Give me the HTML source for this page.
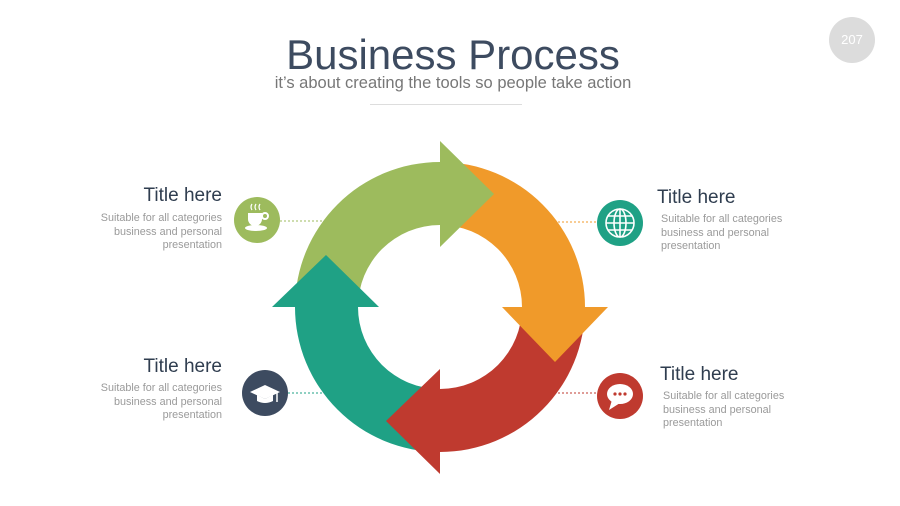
<!DOCTYPE html>
<html><head><meta charset="utf-8"><style>
body{margin:0;width:900px;height:506px;background:#fff;overflow:hidden;font-family:"Liberation Sans",sans-serif;position:relative}
.t{position:absolute;font-size:19px;color:#2f3d4f;white-space:nowrap}
.d{position:absolute;font-size:10.8px;line-height:13.5px;color:#9a9a9a;white-space:nowrap}
.r{text-align:right}
</style></head><body>
<div style="position:absolute;left:0;width:906px;top:31px;text-align:center;font-size:42px;color:#3d4b60">Business Process</div>
<div style="position:absolute;left:0;width:906px;top:74px;text-align:center;font-size:16.5px;color:#777">it’s about creating the tools so people take action</div>
<div style="position:absolute;left:370px;top:104px;width:152px;height:1px;background:#ddd"></div>
<div style="position:absolute;left:829px;top:17px;width:46px;height:46px;border-radius:50%;background:#dcdcdc;color:#fff;font-size:13px;line-height:46px;text-align:center">207</div>

<div class="t r" style="right:678px;top:185px">Title here</div>
<div class="d r" style="right:678px;top:212px">Suitable for all categories<br>business and personal<br>presentation</div>
<div class="t" style="left:657px;top:187px">Title here</div>
<div class="d" style="left:661px;top:213px">Suitable for all categories<br>business and personal<br>presentation</div>
<div class="t r" style="right:678px;top:356px">Title here</div>
<div class="d r" style="right:678px;top:382px">Suitable for all categories<br>business and personal<br>presentation</div>
<div class="t" style="left:660px;top:364px">Title here</div>
<div class="d" style="left:663px;top:390px">Suitable for all categories<br>business and personal<br>presentation</div>

<svg width="900" height="506" style="position:absolute;left:0;top:0">
<g stroke-dasharray="2,2" stroke-width="1">
<line x1="280" y1="221" x2="325" y2="221" stroke="#9dbb5d"/>
<line x1="558" y1="222" x2="598" y2="222" stroke="#f09a2a"/>
<line x1="288" y1="393" x2="325" y2="393" stroke="#1fa185"/>
<line x1="558" y1="393" x2="598" y2="393" stroke="#bf3a2f"/>
</g>
<path d="M295 307 A145 145 0 0 1 440 162 L440 225 A82 82 0 0 0 358 307Z" fill="#9dbb5d"/>
<path d="M440 162 A145 145 0 0 1 585 307 L522 307 A82 82 0 0 0 440 225Z" fill="#f09a2a"/>
<path d="M585 307 A145 145 0 0 1 440 452 L440 389 A82 82 0 0 0 522 307Z" fill="#bf3a2f"/>
<path d="M440 452 A145 145 0 0 1 295 307 L358 307 A82 82 0 0 0 440 389Z" fill="#1fa185"/>
<polygon points="440,141 440,247 494,194" fill="#9dbb5d"/>
<polygon points="502,307 608,307 555,362" fill="#f09a2a"/>
<polygon points="440,369 440,474 386,421" fill="#bf3a2f"/>
<polygon points="272,307 379,307 326,255" fill="#1fa185"/>
<circle cx="257" cy="220" r="23" fill="#9dbb5d"/>
<path d="M248 213 h14 v6 a7 7 0 0 1 -14 0z" fill="#fff"/>
<circle cx="265" cy="216" r="3" fill="none" stroke="#fff" stroke-width="2"/>
<ellipse cx="256" cy="228" rx="11" ry="3" fill="#fff"/>
<path d="M252 210 q-2 -3 0 -6 M256 210 q-2 -3 0 -6 M260 210 q-2 -3 0 -6" stroke="#fff" fill="none" stroke-width="1.2"/>
<circle cx="620" cy="223" r="23" fill="#1fa185"/>
<g fill="none" stroke="#fff" stroke-width="1.6"><circle cx="620" cy="223" r="14"/><ellipse cx="620" cy="223" rx="6" ry="14"/><line x1="606" y1="223" x2="634" y2="223"/><line x1="620" y1="209" x2="620" y2="237"/><line x1="608" y1="216" x2="632" y2="216"/><line x1="608" y1="230" x2="632" y2="230"/></g>
<circle cx="265" cy="393" r="23" fill="#3d4b60"/>
<polygon points="250,392 265,385 280,392 265,399" fill="#fff"/>
<path d="M257 395 v6 q8 4 16 0 v-6 l-8 4z" fill="#fff"/>
<line x1="277" y1="393" x2="277" y2="402" stroke="#fff" stroke-width="1.5"/>
<circle cx="620" cy="396" r="23" fill="#bf3a2f"/>
<ellipse cx="620" cy="394" rx="13" ry="10" fill="#fff"/>
<polygon points="612,400 609,410 620,403" fill="#fff"/>
<circle cx="615" cy="394" r="1.6" fill="#bf3a2f"/><circle cx="620" cy="394" r="1.6" fill="#bf3a2f"/><circle cx="625" cy="394" r="1.6" fill="#bf3a2f"/>
</svg>
</body></html>
